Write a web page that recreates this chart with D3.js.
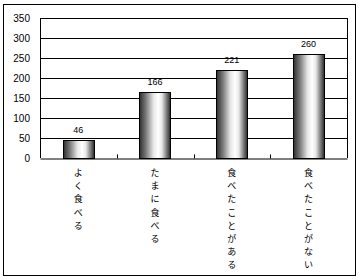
<!DOCTYPE html>
<html>
<head>
<meta charset="utf-8">
<script src="https://cdn.jsdelivr.net/npm/d3@7"></script>
<style>
  html, body { margin: 0; padding: 0; background: #fff; }
  svg { display: block; }
  text { font-family: "Liberation Sans", Arial, sans-serif; fill: #000; }
  .cjk { font-family: "Noto Sans CJK JP", sans-serif; }
</style>
</head>
<body>
<svg id="chart" width="361" height="280"></svg>
<script>
// Survey responses: how often people eat it
const categories = ["よく食べる", "たまに食べる", "食べたことがある", "食べたことがない"];
const counts = [46, 166, 221, 260];
const yTicks = [0, 50, 100, 150, 200, 250, 300, 350];

const svg = d3.select("#chart");
const plot = { left: 40, top: 18, right: 347, bottom: 158 };

// Outer frame
svg.append("rect")
  .attr("x", 3.5).attr("y", 4.5)
  .attr("width", 352).attr("height", 271)
  .attr("fill", "#fff").attr("stroke", "#000").attr("stroke-width", 1);

const x = d3.scaleBand()
  .domain(categories)
  .range([plot.left, plot.right])
  .paddingInner(0.59)
  .paddingOuter(0.295);

const y = d3.scaleLinear()
  .domain([0, 350])
  .range([plot.bottom, plot.top]);

// Cylinder-like shading for the bars
const defs = svg.append("defs");
const grad = defs.append("linearGradient")
  .attr("id", "barShade")
  .attr("x1", "0%").attr("x2", "100%").attr("y1", "0%").attr("y2", "0%");
[[0, "#2e2e2e"], [0.2, "#777"], [0.45, "#e6e6e6"], [0.6, "#ffffff"], [0.72, "#e8e8e8"], [0.88, "#777"], [1, "#262626"]]
  .forEach(([o, c]) => grad.append("stop").attr("offset", o).attr("stop-color", c));

// Horizontal gridlines
svg.append("g")
  .selectAll("line")
  .data(yTicks.filter(d => d > 0))
  .join("line")
  .attr("x1", plot.left).attr("x2", plot.right)
  .attr("y1", d => Math.round(y(d)) + 0.5).attr("y2", d => Math.round(y(d)) + 0.5)
  .attr("stroke", "#000").attr("stroke-width", 1);

// Plot area edges
svg.append("line")
  .attr("x1", plot.left + 0.5).attr("x2", plot.left + 0.5)
  .attr("y1", plot.top).attr("y2", plot.bottom)
  .attr("stroke", "#000");
svg.append("line")
  .attr("x1", plot.right + 0.5).attr("x2", plot.right + 0.5)
  .attr("y1", plot.top).attr("y2", plot.bottom)
  .attr("stroke", "#000");

// Y axis labels
const yAxis = d3.axisLeft(y).tickValues(yTicks).tickSize(0).tickPadding(10);
const gy = svg.append("g")
  .attr("transform", `translate(${plot.left},0)`)
  .call(yAxis);
gy.select(".domain").remove();
gy.selectAll("text")
  .attr("font-size", 10)
  .attr("font-family", "\"Liberation Sans\", Arial, sans-serif");

// Bars
svg.append("g")
  .selectAll("rect")
  .data(categories)
  .join("rect")
  .attr("x", d => Math.round(x(d)) + 0.5)
  .attr("y", (d, i) => Math.round(y(counts[i])) + 0.5)
  .attr("width", Math.round(x.bandwidth()))
  .attr("height", (d, i) => Math.round(y(0)) - Math.round(y(counts[i])))
  .attr("fill", "url(#barShade)")
  .attr("stroke", "#000").attr("stroke-width", 1);

// Value labels above bars
svg.append("g")
  .selectAll("text")
  .data(categories)
  .join("text")
  .attr("x", d => x(d) + x.bandwidth() / 2)
  .attr("y", (d, i) => y(counts[i]) - 7)
  .attr("text-anchor", "middle")
  .attr("font-size", 9)
  .text((d, i) => counts[i]);

// X axis line with inward ticks between categories
const xAxis = d3.axisBottom(x).tickSize(0).tickFormat("");
const gx = svg.append("g")
  .attr("transform", `translate(0,${Math.round(y(0)) + 0.5})`)
  .call(xAxis);
gx.select(".domain").attr("stroke", "#000");
gx.selectAll(".tick").remove();
gx.selectAll("line.sep")
  .data(d3.range(1, categories.length))
  .join("line")
  .attr("class", "sep")
  .attr("x1", i => Math.round(plot.left + i * (plot.right - plot.left) / categories.length) + 0.5)
  .attr("x2", i => Math.round(plot.left + i * (plot.right - plot.left) / categories.length) + 0.5)
  .attr("y1", 0).attr("y2", -4)
  .attr("stroke", "#000");

// Vertical category labels, one character per line
const cat = svg.append("g")
  .selectAll("text")
  .data(categories)
  .join("text")
  .attr("class", "cjk")
  .attr("font-size", 9)
  .attr("text-anchor", "middle")
  .attr("x", d => x(d) + x.bandwidth() / 2)
  .attr("y", 176);
cat.selectAll("tspan")
  .data(d => Array.from(d).map(ch => ({ ch, cx: x(d) + x.bandwidth() / 2 })))
  .join("tspan")
  .attr("x", t => t.cx)
  .attr("dy", (t, i) => i === 0 ? 0 : 13.2)
  .text(t => t.ch);
</script>
</body>
</html>
